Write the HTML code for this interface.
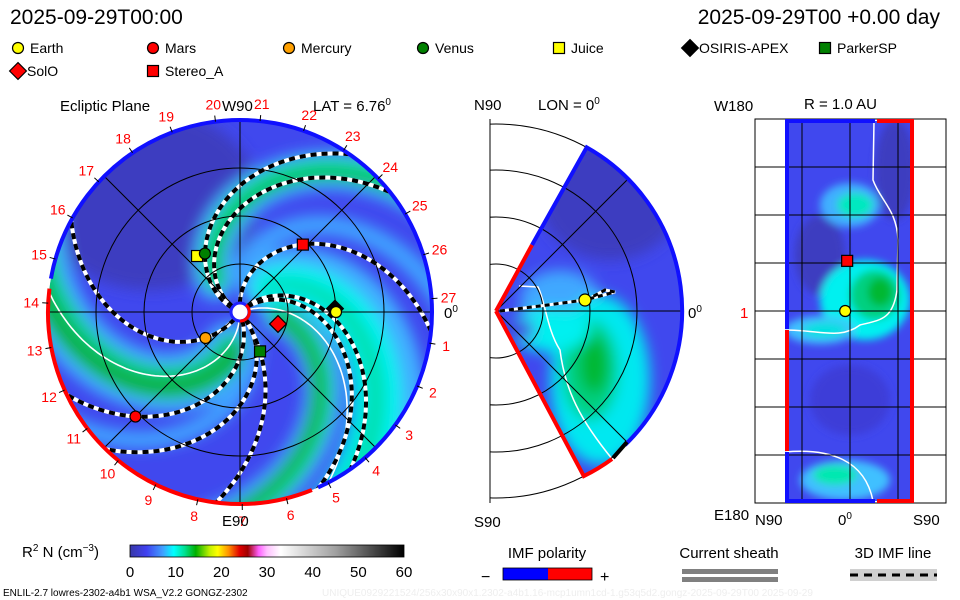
<!DOCTYPE html>
<html><head><meta charset="utf-8"><style>
html,body{margin:0;padding:0;background:#fff;}
svg{display:block;font-family:"Liberation Sans",sans-serif;}
</style></head><body>
<svg id="c" width="960" height="600" viewBox="0 0 960 600" xmlns="http://www.w3.org/2000/svg">
<defs>
<filter id="bl" x="-20%" y="-20%" width="140%" height="140%"><feGaussianBlur stdDeviation="7"/></filter>
<filter id="bl2" x="-20%" y="-20%" width="140%" height="140%"><feGaussianBlur stdDeviation="4"/></filter>
<clipPath id="ecl"><circle cx="240" cy="312" r="192"/></clipPath>
<clipPath id="wedge"><path d="M496,311 L586.7,147.4 A187,187 0 0 1 583.8,476.1 Z"/></clipPath>
<clipPath id="mbox"><rect x="490" y="119" width="200" height="384"/></clipPath>
<clipPath id="rrect"><rect x="785" y="121" width="128" height="380"/></clipPath>
<linearGradient id="cbar" x1="0" x2="1" y1="0" y2="0">
<stop offset="0" stop-color="#3838a8"/><stop offset="0.06" stop-color="#4040f0"/><stop offset="0.12" stop-color="#40a0ff"/>
<stop offset="0.16" stop-color="#00ffff"/><stop offset="0.2" stop-color="#00e090"/><stop offset="0.24" stop-color="#00b000"/>
<stop offset="0.29" stop-color="#c0f000"/><stop offset="0.32" stop-color="#ffff00"/><stop offset="0.36" stop-color="#ff9000"/>
<stop offset="0.4" stop-color="#e00000"/><stop offset="0.43" stop-color="#a00000"/><stop offset="0.47" stop-color="#ff60ff"/>
<stop offset="0.5" stop-color="#ffc0ff"/><stop offset="0.55" stop-color="#ffffff"/><stop offset="0.75" stop-color="#a0a0a0"/>
<stop offset="1" stop-color="#000000"/></linearGradient>
</defs>

<text x="10" y="24" font-size="21">2025-09-29T00:00</text>
<text x="940" y="24" font-size="21" text-anchor="end">2025-09-29T00 +0.00 day</text>
<g id="legend" font-size="14"></g>

<g>
<g clip-path="url(#ecl)">
<circle cx="240" cy="312" r="192" fill="#4048ee"/>
<g id="bands" filter="url(#bl)"></g>
<g id="wlines"></g>
<g id="spirals"></g>
</g>
<g id="egrid" fill="none" stroke="#000" stroke-width="1"></g>
<g id="rim"></g>
<g id="elabels" font-size="14" fill="#f00"></g>
<circle cx="240" cy="312" r="9" fill="#fff" stroke="#2020ff" stroke-width="3"/>
<path d="M246,305 A9,9 0 0 1 240,321" fill="none" stroke="#f00" stroke-width="3"/>
<g id="ebodies"></g>
<text x="60" y="111" font-size="15">Ecliptic Plane</text>
<text x="222" y="111" font-size="15">W90</text>
<text x="313" y="111" font-size="15">LAT = 6.76<tspan font-size="10" dy="-6">0</tspan></text>
<text x="222" y="526" font-size="15">E90</text>
<text x="444" y="318" font-size="15">0<tspan font-size="10" dy="-6">0</tspan></text>
</g>

<g>
<g clip-path="url(#wedge)">
<rect x="490" y="119" width="200" height="384" fill="#4048ee"/>
<g filter="url(#bl)">
<ellipse cx="610" cy="200" rx="70" ry="60" fill="#3c3cc0"/>
<ellipse cx="560" cy="300" rx="40" ry="30" fill="#40a8ff"/>
<ellipse cx="600" cy="380" rx="50" ry="85" fill="#00e8f0"/>
<ellipse cx="590" cy="370" rx="28" ry="50" fill="#00d080"/>
<ellipse cx="594" cy="365" rx="14" ry="28" fill="#00b830"/>
<ellipse cx="550" cy="330" rx="40" ry="22" fill="#00f0f0"/>
<ellipse cx="520" cy="330" rx="15" ry="10" fill="#4040e0"/>
</g>
<path d="M519,286 L538,287 C545,300 547,330 560,350 C565,390 580,420 613,460" fill="none" stroke="#fff" stroke-width="1.5"/>
</g>
<g clip-path="url(#mbox)" fill="none" stroke="#000" stroke-width="1" id="mgrid"></g>
<line x1="490" y1="119" x2="490" y2="503" stroke="#000"/>
<path d="M532,245 L586.7,147.4 A187,187 0 0 1 625,445" fill="none" stroke="#1010ff" stroke-width="4"/>
<path d="M627,442 L613,458" stroke="#000" stroke-width="4"/>
<path d="M496,311 L532,245" fill="none" stroke="#f00" stroke-width="4"/>
<path d="M612,459 A187,187 0 0 1 583.8,476.1 L496,311" fill="none" stroke="#f00" stroke-width="4"/>
<polyline points="500,311 540,306 585,300 600,296 615,292 605,290 592,297" fill="none" stroke="#fff" stroke-width="3"/>
<polyline points="500,311 540,306 585,300 600,296 615,292 605,290 592,297" fill="none" stroke="#000" stroke-width="3" stroke-dasharray="5 4"/>
<circle cx="585" cy="300" r="6" fill="#ffff00" stroke="#000" stroke-width="1.2"/>
<text x="474" y="110" font-size="15">N90</text>
<text x="538" y="110" font-size="15">LON = 0<tspan font-size="10" dy="-6">0</tspan></text>
<text x="474" y="527" font-size="15">S90</text>
<text x="688" y="318" font-size="15">0<tspan font-size="10" dy="-6">0</tspan></text>
</g>

<g>
<g clip-path="url(#rrect)">
<rect x="785" y="121" width="128" height="380" fill="#4048ee"/>
<g filter="url(#bl2)">
<ellipse cx="820" cy="255" rx="25" ry="40" fill="#3c3cc0"/>
<ellipse cx="895" cy="170" rx="20" ry="50" fill="#3c3cc0"/>
<ellipse cx="850" cy="205" rx="30" ry="22" fill="#40b0ff"/>
<ellipse cx="855" cy="205" rx="18" ry="12" fill="#00e8c0"/>
<ellipse cx="865" cy="300" rx="45" ry="40" fill="#00f0f0"/>
<ellipse cx="875" cy="295" rx="25" ry="25" fill="#00d080"/>
<ellipse cx="880" cy="292" rx="12" ry="14" fill="#00b830"/>
<ellipse cx="820" cy="330" rx="35" ry="14" fill="#40c0ff"/>
<ellipse cx="825" cy="330" rx="22" ry="8" fill="#00e0e0"/>
<ellipse cx="845" cy="480" rx="45" ry="20" fill="#40c0ff"/>
<ellipse cx="835" cy="475" rx="22" ry="10" fill="#00e8b0"/>
<ellipse cx="850" cy="400" rx="40" ry="35" fill="#3c3cd8"/>
</g>
<path d="M874,121 L873,180 C880,200 897,210 898,240 L897,290 C893,320 880,320 860,325 C840,340 820,330 785,330" fill="none" stroke="#fff" stroke-width="1.5"/>
<path d="M785,452 C830,448 865,460 873,501" fill="none" stroke="#fff" stroke-width="1.5"/>
</g>
<g id="rgrid" stroke="#000" stroke-width="1"></g>
<rect x="755" y="119" width="191" height="384" fill="none" stroke="#000"/>
<path d="M787,329 L787,121 L875,121" fill="none" stroke="#1010ff" stroke-width="4"/>
<path d="M787,452 L787,501 L875,501" fill="none" stroke="#1010ff" stroke-width="4"/>
<path d="M787,330 L787,451" stroke="#f00" stroke-width="4"/>
<path d="M877,121 L912,121 L912,501 L877,501" fill="none" stroke="#f00" stroke-width="4"/>
<g id="rbodies"></g>
<text x="714" y="111" font-size="15">W180</text>
<text x="804" y="109" font-size="15">R = 1.0 AU</text>
<text x="740" y="318" font-size="15" fill="#f00">1</text>
<text x="714" y="520" font-size="15">E180</text>
<text x="755" y="525" font-size="15">N90</text>
<text x="838" y="525" font-size="15">0<tspan font-size="10" dy="-6">0</tspan></text>
<text x="913" y="525" font-size="15">S90</text>
</g>

<g>
<text x="22" y="557" font-size="15">R<tspan font-size="10" dy="-6">2</tspan><tspan dy="6"> N (cm</tspan><tspan font-size="10" dy="-6">−3</tspan><tspan dy="6">)</tspan></text>
<rect x="130" y="545" width="274" height="12" fill="url(#cbar)" stroke="#000" stroke-width="0.8"/>
<g id="cbticks" font-size="15" text-anchor="middle"></g>
</g>
<g>
<text x="547" y="558" font-size="15" text-anchor="middle">IMF polarity</text>
<text x="481" y="582" font-size="16">−</text>
<rect x="503" y="568" width="45" height="12" fill="#0000ff"/>
<rect x="548" y="568" width="44" height="12" fill="#ff0000"/>
<rect x="503" y="568" width="89" height="12" fill="none" stroke="#000" stroke-width="0.8"/>
<text x="600" y="582" font-size="16">+</text>
</g>
<g>
<text x="729" y="558" font-size="15" text-anchor="middle">Current sheath</text>
<rect x="682" y="569" width="96" height="5" fill="#808080"/>
<rect x="682" y="577" width="96" height="5" fill="#808080"/>
</g>
<g>
<text x="893" y="558" font-size="15" text-anchor="middle">3D IMF line</text>
<rect x="850" y="569" width="87" height="12" fill="#d0d0d0"/>
<line x1="850" y1="575" x2="937" y2="575" stroke="#000" stroke-width="3" stroke-dasharray="8 6"/>
</g>
<text x="3" y="596" font-size="10">ENLIL-2.7 lowres-2302-a4b1 WSA_V2.2 GONGZ-2302</text>
<text x="322" y="596" font-size="10" fill="#eeeeee">UNIQUE0929221524/256x30x90x1.2302-a4b1.16-mcp1umn1cd-1.g53q5d2.gongz-2025-09-29T00    2025-09-29</text>

<script>
var bodyNames = ["Earth","Mars","Mercury","Venus","Juice","OSIRIS-APEX","ParkerSP","SolO","Stereo_A"];
var bodyR     = [1.0, 1.54, 0.45, 0.71, 0.735, 0.99, 0.46, 0.415, 0.96];
var bodyLon   = [0, 225, 217, 121, 127.5, 2, -63, -17.5, 47];
var bodyLat   = [6.76, 0, 0, 0, 0, 0, 0, 0, 4];
var bodyShape = ["circle","circle","circle","circle","square","diamond","square","diamond","square"];
var bodyColor = ["#ffff00","#ff0000","#ffa000","#008000","#ffff00","#000000","#008000","#ff0000","#ff0000"];
var legendOrder = ["Earth","Mars","Mercury","Venus","Juice","OSIRIS-APEX","ParkerSP","SolO","Stereo_A"];
var imfStartLon = [96, 157, 150, 236, -70, -48, -53, 45, 40];
var imfWind     = [0.53, 0.53, 0.58, 0.44, 0.44, 0.45, 0.23, 0.52, 0.55];
var sheathStart = [270, 20];
var sheathWind  = [0.5, 0.43];
var cbTicks = [0, 10, 20, 30, 40, 50, 60];
var clockLabels = [1,2,3,4,5,6,7,8,9,10,11,12,13,14,15,16,17,18,19,20,21,22,23,24,25,26,27];

var NS = "http://www.w3.org/2000/svg";
var CX = 240, CY = 312, R = 192, AU = 96;
function mk(tag, attrs, parent){ var e = document.createElementNS(NS, tag); for (var k in attrs) e.setAttribute(k, attrs[k]); parent.appendChild(e); return e; }
function px(r, deg){ var a = deg*Math.PI/180; return [CX + r*Math.cos(a), CY - r*Math.sin(a)]; }
function spiral(phi0, k, r0, r1){ var p = []; for (var r = r0; r <= r1; r += 3){ var q = px(r, phi0 - k*r); p.push(q[0].toFixed(1)+","+q[1].toFixed(1)); } return p.join(" "); }

var bands = document.getElementById("bands");
var bandSpec = [[150,0.55,40,"#40a8ff"],[150,0.55,22,"#00e0a0"],[148,0.55,12,"#00c050"],
 [280,0.55,60,"#40a8ff"],[280,0.55,34,"#00d090"],[283,0.55,18,"#10b040"],
 [20,0.55,40,"#40a8ff"],[15,0.52,22,"#00d080"],[12,0.52,10,"#10b040"],
 [70,0.55,55,"#40b0ff"],[60,0.55,40,"#00f0f0"],[55,0.55,22,"#00e0b0"],[45,0.55,16,"#00e8e8"],
 [110,0.53,20,"#40a0ff"],[-55,0.45,18,"#40a0ff"]];
mk("ellipse",{cx:150,cy:200,rx:110,ry:90,fill:"#3c3cc0"},bands);
bandSpec.forEach(function(b){
  var e = mk("polyline",{points:spiral(b[0],b[1],40,260),fill:"none",stroke:b[3],"stroke-width":b[2],"stroke-linecap":"round"},bands);
  
  
});

var wl = document.getElementById("wlines");
for (var i = 0; i < sheathStart.length; i++){
  var e = mk("polyline",{points:spiral(sheathStart[i],sheathWind[i],10,200),fill:"none",stroke:"#fff","stroke-width":1.6},wl);
  
  
}

var sp = document.getElementById("spirals");
for (var i = 0; i < imfStartLon.length; i++){
  var pts = spiral(imfStartLon[i], imfWind[i], 9, 200);
  var w = mk("polyline",{points:pts,fill:"none",stroke:"#fff","stroke-width":4},sp);
  
  
  var d = mk("polyline",{points:pts,fill:"none",stroke:"#000","stroke-width":4,"stroke-dasharray":"6 5"},sp);
  
  
}

var eg = document.getElementById("egrid");
[48,96,144].forEach(function(r){ var c = mk("circle",{cx:CX,cy:CY,r:r},eg);   });
[0,45,90,135].forEach(function(a){ var p1 = px(R,a), p2 = px(R,a+180); var l = mk("line",{x1:p1[0],y1:p1[1],x2:p2[0],y2:p2[1]},eg);   });

var rim = document.getElementById("rim");
function arc(a0, a1, col){ var p0 = px(R,a0), p1 = px(R,a1); var large = Math.abs(a1-a0) > 180 ? 1 : 0;
  return mk("path",{d:"M"+p0[0]+","+p0[1]+" A"+R+","+R+" 0 "+large+" 0 "+p1[0]+","+p1[1],fill:"none",stroke:col,"stroke-width":4},rim); }
var a1 = arc(-66, 170, "#1010ff");  
var a2 = arc(173, 292, "#ff0000");  

var el = document.getElementById("elabels");
clockLabels.forEach(function(n){
  var a = 4 + (27-n)*360/27;
  var p = px(209, a), t1 = px(R,a), t2 = px(R+6,a);
  mk("line",{x1:t1[0],y1:t1[1],x2:t2[0],y2:t2[1],stroke:"#000","stroke-width":1},el);
  var t = mk("text",{x:p[0].toFixed(1),y:(p[1]+5).toFixed(1),"text-anchor":"middle"},el);
  t.textContent = n;
  
  
});

function marker(parent, shape, x, y, col, s){
  var e;
  if (shape === "circle") e = mk("circle",{cx:x,cy:y,r:s,fill:col,stroke:"#000","stroke-width":1.2},parent);
  else if (shape === "square") e = mk("rect",{x:x-s,y:y-s,width:2*s,height:2*s,fill:col,stroke:"#000","stroke-width":1.2},parent);
  else e = mk("polygon",{points:[x,y-s*1.4,x+s*1.4,y,x,y+s*1.4,x-s*1.4,y].join(","),fill:col,stroke:"#000","stroke-width":1.2},parent);
  return e;
}
var eb = document.getElementById("ebodies");
var drawOrder = [5,0,1,2,4,3,6,7,8];
drawOrder.forEach(function(i){
  var p = px(bodyR[i]*AU, bodyLon[i]);
  var m = marker(eb, bodyShape[i], p[0], p[1], bodyColor[i], bodyShape[i]==="diamond"?6:5.5);
  
  
});

var lg = document.getElementById("legend");
var lx = [18,153,289,423,559,690,825,18,153], ly = [48,48,48,48,48,48,48,71,71];
legendOrder.forEach(function(nm, j){
  var i = bodyNames.indexOf(nm);
  var m = marker(lg, bodyShape[i], lx[j], ly[j], bodyColor[i], bodyShape[i]==="diamond"?6:5.5);
  
  
  var t = mk("text",{x:lx[j]+(bodyShape[i]==="diamond"?9:12),y:ly[j]+5},lg);
  t.textContent = nm;
  
  
});

var mg = document.getElementById("mgrid");
[47,94,141,187].forEach(function(r){ var c = mk("circle",{cx:496,cy:311,r:r},mg);   });
[45,0,-45].forEach(function(a){ var r = a*Math.PI/180; var l = mk("line",{x1:496,y1:311,x2:496+187*Math.cos(r),y2:311-187*Math.sin(r)},mg);   });

var rg = document.getElementById("rgrid");
[802,850,898].forEach(function(x){ var l = mk("line",{x1:x,y1:119,x2:x,y2:503},rg);   });
[167,215,263,311,359,407,455].forEach(function(y){ var l = mk("line",{x1:755,y1:y,x2:946,y2:y},rg);   });
var rb = document.getElementById("rbodies");
[0,8].forEach(function(i){
  var x = 850 - bodyLat[i]*128/180, y = 311 - bodyLon[i]*384/360;
  var m = marker(rb, bodyShape[i], x, y, bodyColor[i], 5.5);
  
  
});

var cb = document.getElementById("cbticks");
cbTicks.forEach(function(v){
  var x = 130 + v/60*274;
  var t = mk("text",{x:x,y:577},cb);
  t.textContent = v;
  
  
});
</script>
</svg>
</body></html>
